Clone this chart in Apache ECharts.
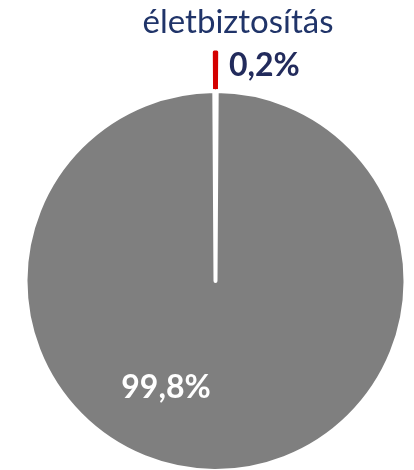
<!DOCTYPE html>
<html>
<head>
<meta charset="utf-8">
<script src="https://cdn.jsdelivr.net/npm/echarts@6/dist/echarts.min.js"></script>
<style>html,body{margin:0;padding:0;background:#fff}#c{width:414px;height:470px}</style>
</head>
<body>
<div id="c"></div>
<script>
const categories = ['életbiztosítás', 'egyéb'];
const values = [0.2, 99.8];
const valueLabels = ['0,2%', '99,8%'];
const titleText = 'életbiztosítás';

const colors = ['#D40000', '#7F7F7F'];
const labelColors = ['#222B5C', '#FFFFFF'];
const labelPos = [
  {x: 229, y: 66, align: 'left', verticalAlign: 'middle'},
  {x: 166, y: 388, align: 'center', verticalAlign: 'middle'}
];
const pieCenter = [215.5, 281];
const explode = 39;

const chart = echarts.init(document.getElementById('c'), null, {renderer: 'canvas'});

function makeSeries(idx, center) {
  return {
    type: 'pie',
    center: center,
    radius: 190,
    startAngle: 90.36,
    clockwise: true,
    minAngle: 0,
    silent: true,
    avoidLabelOverlap: false,
    emphasis: {disabled: true},
    labelLine: {show: false},
    labelLayout: function (p) { return labelPos[p.dataIndex]; },
    data: categories.map((name, i) => ({
      name: name,
      value: values[i],
      itemStyle: i !== idx
        ? {color: 'rgba(0,0,0,0)', borderWidth: 0}
        : (i === 0 ? {color: colors[0], borderColor: colors[0], borderWidth: 3}
                   : {color: colors[1], borderColor: '#FFFFFF', borderWidth: 4}),
      label: {
        show: i === idx,
        position: 'inside',
        formatter: valueLabels[i],
        fontFamily: 'Lato',
        fontWeight: 'bold',
        fontSize: 32,
        color: labelColors[i]
      }
    }))
  };
}

chart.setOption({
  animation: false,
  title: {
    text: titleText,
    left: 233,
    textAlign: 'center',
    top: 1,
    textStyle: {fontFamily: 'Lato', fontWeight: 'normal', fontSize: 33, color: '#203469'}
  },
  series: [
    makeSeries(0, [pieCenter[0], pieCenter[1] - explode]),
    makeSeries(1, pieCenter)
  ]
});
</script>
</body>
</html>
